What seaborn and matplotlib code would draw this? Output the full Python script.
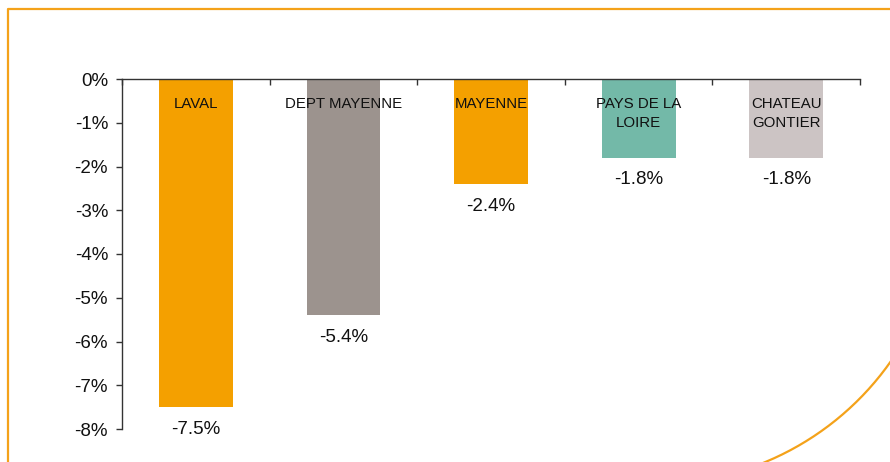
import matplotlib
matplotlib.use("Agg")
import matplotlib.pyplot as plt
import numpy as np
import pandas as pd
import seaborn as sns

CATEGORIES = ["LAVAL", "DEPT MAYENNE", "MAYENNE", "PAYS DE LA\nLOIRE", "CHATEAU\nGONTIER"]
VALUES = [-7.5, -5.4, -2.4, -1.8, -1.8]
COLORS = ["#F4A000", "#9C938E", "#F4A000", "#73B9A8", "#CCC4C4"]
Y_TICKS = [0, -1, -2, -3, -4, -5, -6, -7, -8]
BORDER = "#F4A21A"


def main():
    sns.set_theme(style="white")
    plt.rcParams["font.family"] = ["Liberation Sans", "DejaVu Sans"]

    df = pd.DataFrame({"cat": CATEGORIES, "val": VALUES})

    fig = plt.figure(figsize=(8.9, 4.62), dpi=100)

    # frame drawn in pixel space
    frame = fig.add_axes([0, 0, 1, 1], zorder=0)
    frame.set_xlim(0, 890)
    frame.set_ylim(462, 0)
    frame.axis("off")
    cx, cy, r = 655, 196, 288
    t = np.linspace(0, np.pi / 2, 200)
    ax_, ay_ = cx + r * np.cos(t), cy + r * np.sin(t)
    frame.plot([8, 8, 900], [470, 9, 9], color=BORDER, lw=1.6, solid_capstyle="butt")
    frame.plot(ax_, ay_, color=BORDER, lw=1.6)

    ax = fig.add_axes([122 / 890, 1 - 429 / 462, (860 - 122) / 890, 350 / 462], zorder=1)
    ax.patch.set_alpha(0)
    sns.barplot(data=df, x="cat", y="val", hue="cat", palette=COLORS, saturation=1,
                width=0.5, legend=False, ax=ax, edgecolor="none")

    ax.set_ylim(-8, 0)
    ax.set_xlim(-0.5, len(CATEGORIES) - 0.5)
    ax.set_yticks(Y_TICKS)
    ax.set_yticklabels([f"{v}%" for v in Y_TICKS], fontsize=13.5, color="#111111")
    ax.set_xticks([])
    ax.set_xticks(np.arange(len(CATEGORIES) + 1) - 0.5, minor=True)
    ax.tick_params(axis="x", which="minor", bottom=False, top=True, direction="in",
                   length=4, width=1, color="#333333")
    ax.tick_params(axis="y", left=True, direction="out", length=4, width=1,
                   color="#333333", pad=6)
    ax.set_xlabel("")
    ax.set_ylabel("")

    for s in ["right", "bottom"]:
        ax.spines[s].set_visible(False)
    for s in ["left", "top"]:
        ax.spines[s].set_color("#333333")
        ax.spines[s].set_linewidth(1)

    for i, (c, v) in enumerate(zip(CATEGORIES, VALUES)):
        ax.text(i, -0.40, c, ha="center", va="top", fontsize=10.8, color="#111111",
                linespacing=1.5)
        ax.annotate(f"{v:.1f}%", (i, v), xytext=(0, -16), textcoords="offset points",
                    ha="center", va="center", fontsize=13.5, color="#111111")

    fig.savefig("out.png", dpi=100)
    plt.close(fig)


if __name__ == "__main__":
    main()
